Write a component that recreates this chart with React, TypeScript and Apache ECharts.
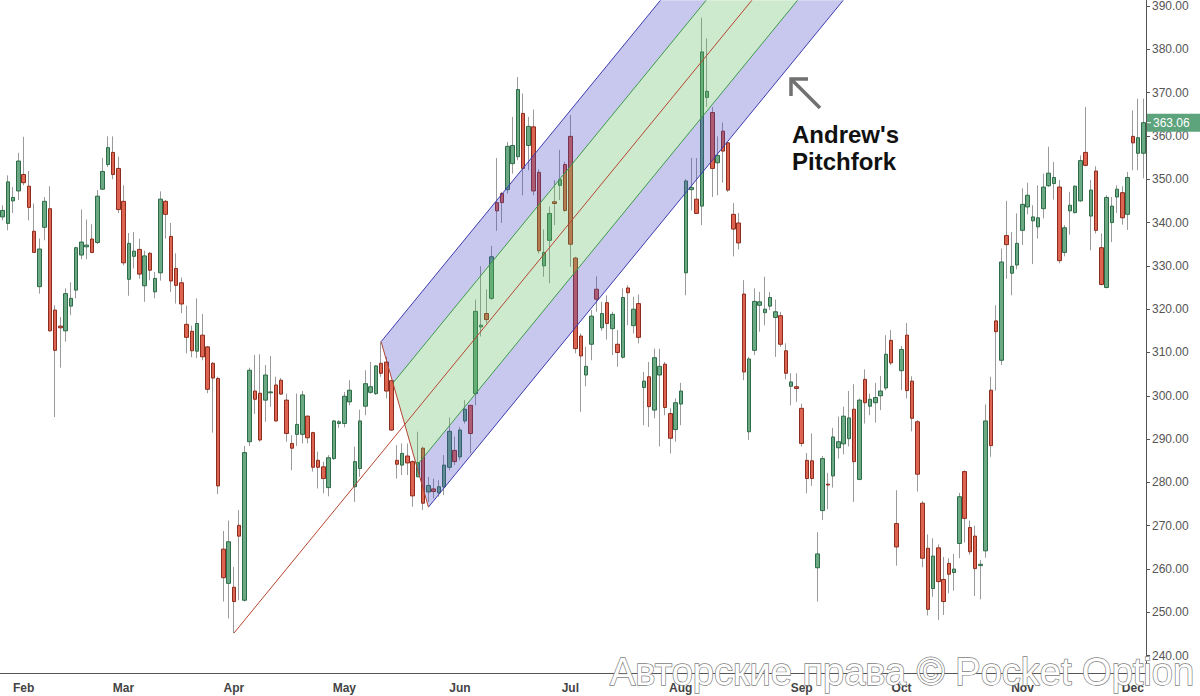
import React, { useEffect, useRef } from "react";
import * as echarts from "echarts";

// ---------- data ----------
const START_DATE = "2018-01-26";
const HOLIDAYS = ["2018-02-19", "2018-03-30", "2018-05-28", "2018-07-04", "2018-09-03", "2018-11-22", "2018-12-05"];
const MONTH_LABELS = ["Jan", "Feb", "Mar", "Apr", "May", "Jun", "Jul", "Aug", "Sep", "Oct", "Nov", "Dec"];

// each candle: [open, close, low, high]
const janCandles = [
  [341.3, 342.8, 340.5, 344.0], [339.8, 349.4, 338.2, 350.9], [345.0, 345.8, 342.2, 348.2], [347.3, 354.2, 345.2, 356.1],
];
const febCandles = [
  [351.1, 349.2, 348.6, 359.8], [348.4, 343.5, 340.5, 351.9], [338.0, 333.1, 333.1, 344.4], [325.2, 333.9, 323.6, 336.3],
  [338.9, 344.9, 335.9, 345.9], [343.2, 315.0, 314.8, 348.4], [319.8, 310.5, 295.1, 320.9], [316.1, 315.7, 306.5, 318.2],
  [315.0, 323.6, 312.5, 324.8], [320.7, 322.5, 318.6, 326.2], [324.4, 334.2, 322.5, 334.4], [332.5, 335.5, 331.5, 343.0],
  [334.4, 334.8, 331.5, 340.7], [336.2, 333.1, 332.9, 339.6], [335.4, 346.1, 335.0, 347.5], [347.7, 351.8, 347.5, 354.9],
  [353.4, 357.3, 352.8, 359.9], [356.2, 351.1, 350.0, 359.9], [352.5, 343.0, 342.2, 355.2],
];
const marCandles = [
  [344.9, 330.7, 330.1, 348.6], [326.9, 335.2, 323.1, 337.6], [332.2, 333.4, 329.4, 337.8], [333.8, 328.1, 327.1, 336.3],
  [325.4, 332.3, 321.7, 333.5], [332.9, 329.0, 326.7, 333.2], [324.0, 327.1, 322.5, 328.6], [328.4, 345.4, 326.6, 347.2],
  [344.9, 341.9, 336.3, 345.2], [336.8, 326.5, 324.0, 339.9], [329.4, 325.5, 321.3, 332.9], [326.1, 321.2, 319.1, 327.3],
  [316.5, 313.5, 309.8, 320.8], [314.9, 310.4, 308.9, 316.2], [310.3, 316.7, 308.7, 322.5], [314.0, 309.0, 308.2, 318.9],
  [311.3, 301.5, 300.6, 311.5], [307.5, 304.1, 291.5, 307.8], [304.0, 279.2, 277.3, 304.4], [264.6, 258.0, 252.5, 268.8],
  [256.7, 266.3, 248.6, 271.2],
];
const aprCandles = [
  [255.8, 252.5, 245.2, 260.5], [270.1, 267.6, 252.8, 273.6], [252.8, 286.9, 252.5, 288.4], [289.4, 305.9, 288.4, 306.5],
  [301.1, 299.2, 295.8, 309.4], [300.6, 289.8, 289.4, 309.6], [299.0, 304.8, 294.0, 307.1], [300.7, 300.9, 297.5, 309.2],
  [302.5, 294.2, 294.0, 304.4], [303.6, 300.4, 300.2, 304.1], [299.0, 291.3, 289.4, 300.5], [289.0, 287.9, 282.8, 290.9],
  [291.1, 293.4, 288.4, 300.5], [291.1, 300.2, 289.0, 301.1], [295.3, 290.3, 289.0, 295.5], [291.5, 283.5, 282.5, 291.7],
  [285.1, 283.5, 278.6, 287.1], [283.6, 280.9, 277.5, 284.8], [278.8, 285.7, 276.8, 286.3], [285.5, 294.2, 285.2, 294.4],
  [293.6, 294.0, 292.6, 294.4],
];
const mayCandles = [
  [293.6, 299.9, 292.7, 300.9], [298.6, 301.3, 297.8, 303.6], [279.0, 284.8, 275.5, 288.3], [283.2, 294.2, 281.3, 296.8],
  [297.6, 302.8, 295.5, 305.9], [300.8, 302.1, 300.5, 307.8], [300.5, 306.9, 300.2, 307.1], [307.5, 305.2, 304.4, 312.5],
  [307.8, 301.1, 299.4, 309.0], [303.5, 292.1, 291.9, 303.6], [285.1, 284.2, 280.9, 288.6], [284.0, 286.7, 281.7, 289.0],
  [286.1, 284.5, 281.7, 289.0], [284.8, 276.9, 274.4, 285.1], [281.3, 284.6, 281.3, 291.7], [287.9, 275.2, 273.6, 288.3],
  [277.8, 279.3, 275.5, 281.3], [278.5, 277.9, 276.3, 280.9], [277.6, 279.0, 276.7, 280.5], [279.0, 284.0, 277.1, 286.3],
  [283.5, 291.8, 282.8, 295.0], [287.4, 284.8, 284.0, 290.6],
];
const junCandles = [
  [285.9, 292.1, 285.1, 292.8], [294.2, 296.9, 293.6, 299.0], [297.8, 291.3, 286.7, 297.8], [300.5, 319.5, 297.8, 322.2],
  [315.9, 316.3, 313.7, 329.9], [319.0, 317.6, 316.7, 324.6], [322.5, 332.1, 322.1, 334.6], [344.6, 342.7, 338.1, 354.9],
  [346.7, 344.6, 339.9, 347.1], [347.6, 357.6, 346.7, 358.6], [353.6, 357.8, 351.3, 364.4], [355.2, 370.7, 354.4, 373.6],
  [365.2, 352.5, 346.3, 369.8], [357.8, 362.2, 352.1, 364.4], [362.1, 347.3, 346.3, 366.1], [351.6, 333.5, 332.9, 352.3],
  [330.0, 333.1, 327.5, 338.4], [335.9, 342.1, 326.0, 343.7], [344.8, 344.4, 339.4, 349.8], [348.6, 349.9, 345.2, 356.8],
  [353.4, 342.8, 342.5, 354.0],
];
const julCandles = [
  [359.9, 335.0, 329.8, 364.8], [331.8, 310.9, 309.8, 332.1], [313.8, 309.2, 296.3, 314.4], [304.8, 306.8, 302.2, 311.3],
  [311.9, 318.4, 308.2, 319.8], [324.6, 322.3, 319.4, 327.6], [315.7, 319.0, 315.0, 321.7], [321.5, 316.7, 313.0, 323.2],
  [315.5, 318.8, 309.4, 319.4], [311.9, 310.0, 306.7, 315.2], [308.9, 322.7, 308.6, 324.8], [324.9, 323.8, 316.3, 325.5],
  [316.2, 320.0, 314.4, 322.9], [321.3, 313.5, 312.1, 323.4], [301.9, 303.4, 293.2, 305.5], [304.4, 297.5, 292.8, 307.8],
  [296.7, 308.8, 294.8, 310.9], [304.8, 306.8, 288.3, 310.9], [307.3, 297.3, 295.5, 307.8], [295.9, 290.2, 286.7, 297.1],
  [292.2, 298.4, 289.4, 299.4],
];
const augCandles = [
  [298.1, 301.1, 293.2, 303.0], [328.4, 349.6, 323.2, 350.0], [347.6, 348.1, 342.8, 354.9], [345.4, 342.1, 342.1, 354.9],
  [343.8, 379.4, 339.4, 387.3], [368.9, 370.3, 366.7, 382.5], [365.4, 352.5, 345.9, 366.7], [353.8, 355.5, 346.3, 359.9],
  [361.1, 356.5, 349.2, 363.1], [358.4, 347.5, 347.1, 358.6], [341.9, 338.5, 332.2, 344.5], [339.9, 335.3, 333.8, 342.2],
  [323.5, 305.5, 303.6, 326.7], [291.7, 308.5, 289.8, 309.0], [310.5, 321.8, 309.4, 324.8], [320.9, 321.7, 314.8, 324.0],
  [319.2, 320.0, 316.3, 327.5], [320.7, 322.7, 319.8, 324.0], [318.1, 319.4, 309.0, 322.2], [318.5, 311.9, 311.3, 319.4],
  [310.4, 305.2, 303.8, 312.1], [302.2, 303.2, 297.8, 305.2], [302.1, 301.7, 298.6, 305.2],
];
const sepCandles = [
  [297.1, 289.0, 288.3, 298.2], [285.1, 280.9, 277.5, 286.8], [285.0, 280.9, 279.2, 291.3], [260.3, 263.5, 252.5, 268.5],
  [273.5, 285.5, 271.3, 286.1], [279.6, 279.4, 273.8, 282.2], [281.5, 290.5, 278.8, 292.6], [288.0, 289.4, 285.5, 295.2],
  [288.9, 295.3, 286.5, 297.5], [290.1, 294.9, 288.3, 301.1], [296.9, 284.8, 275.5, 302.7], [280.7, 299.0, 280.5, 299.4],
  [303.8, 298.4, 293.6, 306.1], [297.6, 299.2, 295.5, 300.5], [298.4, 299.6, 293.8, 303.0], [300.0, 301.1, 296.7, 304.6],
  [301.8, 309.6, 301.3, 314.0], [312.8, 307.6, 307.1, 315.2], [270.5, 265.1, 260.8, 278.2],
];
const octCandles = [
  [305.8, 310.7, 301.3, 311.5], [314.0, 301.2, 299.4, 316.8], [303.4, 294.8, 291.8, 304.5], [294.0, 281.9, 277.9, 294.4],
  [275.2, 262.5, 260.4, 275.7], [264.8, 250.7, 249.3, 268.0], [255.5, 263.0, 253.6, 267.1], [264.9, 257.1, 248.2, 265.7],
  [257.6, 252.5, 249.4, 262.8], [261.3, 258.8, 254.4, 262.5], [259.2, 260.0, 255.0, 263.5], [265.9, 276.7, 262.5, 277.6],
  [282.5, 271.7, 266.1, 282.8], [269.6, 264.0, 263.3, 271.2], [267.6, 260.1, 253.8, 270.0], [260.8, 261.1, 253.0, 262.1],
  [264.2, 294.2, 262.6, 298.0], [301.3, 288.5, 285.9, 304.4], [317.3, 314.8, 301.2, 320.9], [308.2, 330.9, 307.1, 334.0],
  [337.0, 334.9, 327.0, 345.0], [328.3, 329.9, 323.2, 337.8], [330.2, 335.2, 329.2, 342.1],
];
const novCandles = [
  [338.2, 344.2, 334.8, 347.9], [343.6, 346.3, 341.9, 349.2], [340.4, 341.3, 330.4, 344.0], [339.0, 341.1, 336.3, 348.6],
  [343.2, 348.2, 341.0, 351.3], [348.5, 351.4, 348.2, 357.5], [349.0, 350.4, 345.3, 354.0], [348.2, 331.2, 330.6, 349.8],
  [333.1, 338.8, 332.2, 339.4], [342.7, 344.0, 337.2, 347.1], [342.3, 348.4, 342.1, 348.6], [345.0, 354.3, 344.8, 355.5],
  [356.2, 353.2, 353.0, 366.7], [341.5, 347.5, 333.6, 349.8], [351.9, 338.2, 337.5, 353.0], [334.2, 325.7, 325.5, 337.5],
  [325.0, 345.8, 324.8, 346.3], [340.0, 343.8, 335.5, 345.9], [345.9, 347.7, 342.2, 348.6], [346.9, 341.1, 339.5, 348.4],
  [341.9, 350.4, 338.3, 351.7],
];
const decCandles = [
  [359.9, 358.4, 352.1, 365.9], [356.0, 359.6, 352.1, 368.6], [356.0, 363.06, 350.2, 368.6],
];

const candles: number[][] = [
  ...janCandles, ...febCandles, ...marCandles, ...aprCandles, ...mayCandles, ...junCandles,
  ...julCandles, ...augCandles, ...sepCandles, ...octCandles, ...novCandles, ...decCandles,
];

// Andrew's pitchfork pivots (candle index, price): A, B, C
const pivotIndex = [44, 72, 81];
const pivotPrice = [245.2, 312.5, 274.3];

const Y_MIN = 236;
const Y_MAX = 391.3;
const annotationText = "Andrew's\nPitchfork";
const watermarkText = "Авторские права © Pocket Option";

// ---------- helpers ----------
function tradingDays(start: string, count: number, holidays: string[]) {
  const out: string[] = [];
  const d = new Date(start + "T00:00:00Z");
  while (out.length < count) {
    const wd = d.getUTCDay();
    const s = d.toISOString().slice(0, 10);
    if (wd !== 0 && wd !== 6 && holidays.indexOf(s) < 0) out.push(s);
    d.setUTCDate(d.getUTCDate() + 1);
  }
  return out;
}

const dates = tradingDays(START_DATE, candles.length, HOLIDAYS);
const lastClose = candles[candles.length - 1][1];
const FONT = "Liberation Sans, Arial, sans-serif";

function pitchforkRender(params: any, api: any) {
  const [iA, iB, iC] = pivotIndex;
  const [pA, pB, pC] = pivotPrice;
  const iM = (iB + iC) / 2;
  const pM = (pB + pC) / 2;
  const s = (pM - pA) / (iM - iA);
  const x0 = api.coord([0, Y_MIN])[0];
  const dx = api.coord([1, Y_MIN])[0] - x0;
  const px = (i: number, p: number) => [x0 + i * dx, api.coord([0, p])[1]];
  const onBC = (t: number) => [iB + t * (iC - iB), pB + t * (pC - pB)];
  const endOf = (st: number[]) => [st[0] + (Y_MAX - st[1]) / s, Y_MAX];

  const sU = onBC(0), sGU = onBC(0.25), sGL = onBC(0.75), sL = onBC(1);
  const eU = endOf(sU), eGU = endOf(sGU), eGL = endOf(sGL), eL = endOf(sL);
  const eM = endOf([iA, pA]);

  const poly = (pts: number[][], fill: string) => ({
    type: "polygon",
    shape: { points: pts.map((q) => px(q[0], q[1])) },
    style: { fill },
    silent: true,
  });
  const seg = (a: number[], b: number[], stroke: string) => {
    const p1 = px(a[0], a[1]);
    const p2 = px(b[0], b[1]);
    return {
      type: "line",
      shape: { x1: p1[0], y1: p1[1], x2: p2[0], y2: p2[1] },
      style: { stroke, lineWidth: 1 },
      silent: true,
    };
  };
  const blueFill = "rgba(72,72,198,0.30)";
  const greenFill = "rgba(92,185,92,0.30)";
  return {
    type: "group",
    children: [
      poly([sU, eU, eGU, sGU], blueFill),
      poly([sGU, eGU, eGL, sGL], greenFill),
      poly([sGL, eGL, eL, sL], blueFill),
      seg(sU, eU, "#3b3bb0"),
      seg(sL, eL, "#3b3bb0"),
      seg(sGU, eGU, "#3c9a48"),
      seg(sGL, eGL, "#3c9a48"),
      seg([iA, pA], eM, "#b4452f"),
      seg([iB, pB], [iC, pC], "#b4452f"),
    ],
  };
}

export default function App() {
  const ref = useRef<HTMLDivElement>(null);
  useEffect(() => {
    if (!ref.current) return;
    const chart = echarts.init(ref.current, null, { renderer: "svg" });
    const wickData = candles.map((c) => [c[0], c[1], c[2], c[3]]);
    const bodyData = candles.map((c) => [c[0], c[1], Math.min(c[0], c[1]), Math.max(c[0], c[1])]);
    const staticGraphics: any[] = [
      {
        type: "text",
        id: "annot",
        x: 792,
        y: 121,
        z: 50,
        style: {
          text: annotationText,
          fill: "#111",
          fontSize: 24,
          fontWeight: "bold",
          fontFamily: FONT,
          lineHeight: 27,
          align: "left",
          verticalAlign: "top",
        },
      },
      {
        type: "line",
        id: "arrowLine",
        z: 50,
        shape: { x1: 820, y1: 108, x2: 792, y2: 80 },
        style: { stroke: "#707070", lineWidth: 3.5 },
      },
      {
        type: "polyline",
        id: "arrowHead",
        z: 50,
        shape: { points: [[791, 96], [791, 79], [808, 79]] },
        style: { stroke: "#707070", lineWidth: 3.5, fill: "none" },
      },
      {
        type: "text",
        id: "watermark",
        x: 610,
        y: 672,
        z: 100,
        style: {
          text: watermarkText,
          fill: "#ffffff",
          stroke: "#808080",
          lineWidth: 1.4,
          fontSize: 38,
          fontFamily: FONT,
          align: "left",
          verticalAlign: "middle",
        },
      },
    ];
    const option: any = {
      animation: false,
      backgroundColor: "#ffffff",
      grid: { left: 0, top: 0, width: 1146, height: 673, containLabel: false },
      xAxis: {
        type: "category",
        data: dates,
        boundaryGap: true,
        axisLine: { show: true, lineStyle: { color: "#555", width: 1 } },
        axisTick: { show: false },
        splitLine: { show: false },
        axisLabel: {
          interval: (index: number, value: string) =>
            index > 0 && value.slice(5, 7) !== dates[index - 1].slice(5, 7),
          formatter: (value: string) => MONTH_LABELS[parseInt(value.slice(5, 7), 10) - 1],
          color: "#444",
          fontWeight: "bold",
          fontSize: 12,
          fontFamily: FONT,
          margin: 9,
        },
      },
      yAxis: {
        type: "value",
        position: "right",
        min: Y_MIN,
        max: Y_MAX,
        minInterval: 10,
        maxInterval: 10,
        splitNumber: 16,
        axisLine: { show: true, lineStyle: { color: "#555", width: 1 } },
        axisTick: { show: true, length: 4, lineStyle: { color: "#555" } },
        splitLine: { show: false },
        axisLabel: {
          formatter: (v: number) => (Math.abs(v / 10 - Math.round(v / 10)) < 1e-6 ? v.toFixed(2) : ""),
          color: "#555",
          fontSize: 12,
          fontFamily: FONT,
          margin: 6,
          showMinLabel: false,
          showMaxLabel: false,
        },
      },
      series: [
        {
          type: "candlestick",
          name: "wicks",
          data: wickData,
          barWidth: 1,
          z: 2,
          itemStyle: { color: "#9a9a9a", color0: "#9a9a9a", borderColor: "#9a9a9a", borderColor0: "#9a9a9a", borderWidth: 1 },
        },
        {
          type: "candlestick",
          name: "bodies",
          data: bodyData,
          barWidth: 4,
          z: 3,
          itemStyle: { color: "#6aa984", color0: "#dc6450", borderColor: "#2e6b47", borderColor0: "#8c2c1c", borderWidth: 1 },
        },
        {
          type: "custom",
          name: "pitchfork",
          renderItem: pitchforkRender,
          data: [[pivotIndex[0], pivotPrice[0]]],
          encode: { x: 0, y: 1 },
          z: 5,
          silent: true,
        },
      ],
      graphic: staticGraphics,
    };
    chart.setOption(option);

    // last price tag on the right axis, positioned through the y scale
    const yPix = chart.convertToPixel({ yAxisIndex: 0 }, lastClose) as number;
    chart.setOption({
      graphic: [
        ...staticGraphics,
        {
          type: "rect",
          id: "priceTagBox",
          z: 60,
          shape: { x: 1147, y: yPix - 9, width: 53, height: 18 },
          style: { fill: "#5da47c" },
        },
        {
          type: "line",
          id: "priceTagTick",
          z: 61,
          shape: { x1: 1147, y1: yPix, x2: 1151, y2: yPix },
          style: { stroke: "#ffffff", lineWidth: 1 },
        },
        {
          type: "text",
          id: "priceTagText",
          z: 61,
          x: 1153,
          y: yPix,
          style: {
            text: lastClose.toFixed(2),
            fill: "#ffffff",
            fontSize: 12,
            fontFamily: FONT,
            align: "left",
            verticalAlign: "middle",
          },
        },
      ],
    });
    return () => chart.dispose();
  }, []);
  return (
    <div
      ref={ref}
      style={{ position: "fixed", left: 0, top: 0, width: 1200, height: 696, background: "#fff" }}
    />
  );
}
